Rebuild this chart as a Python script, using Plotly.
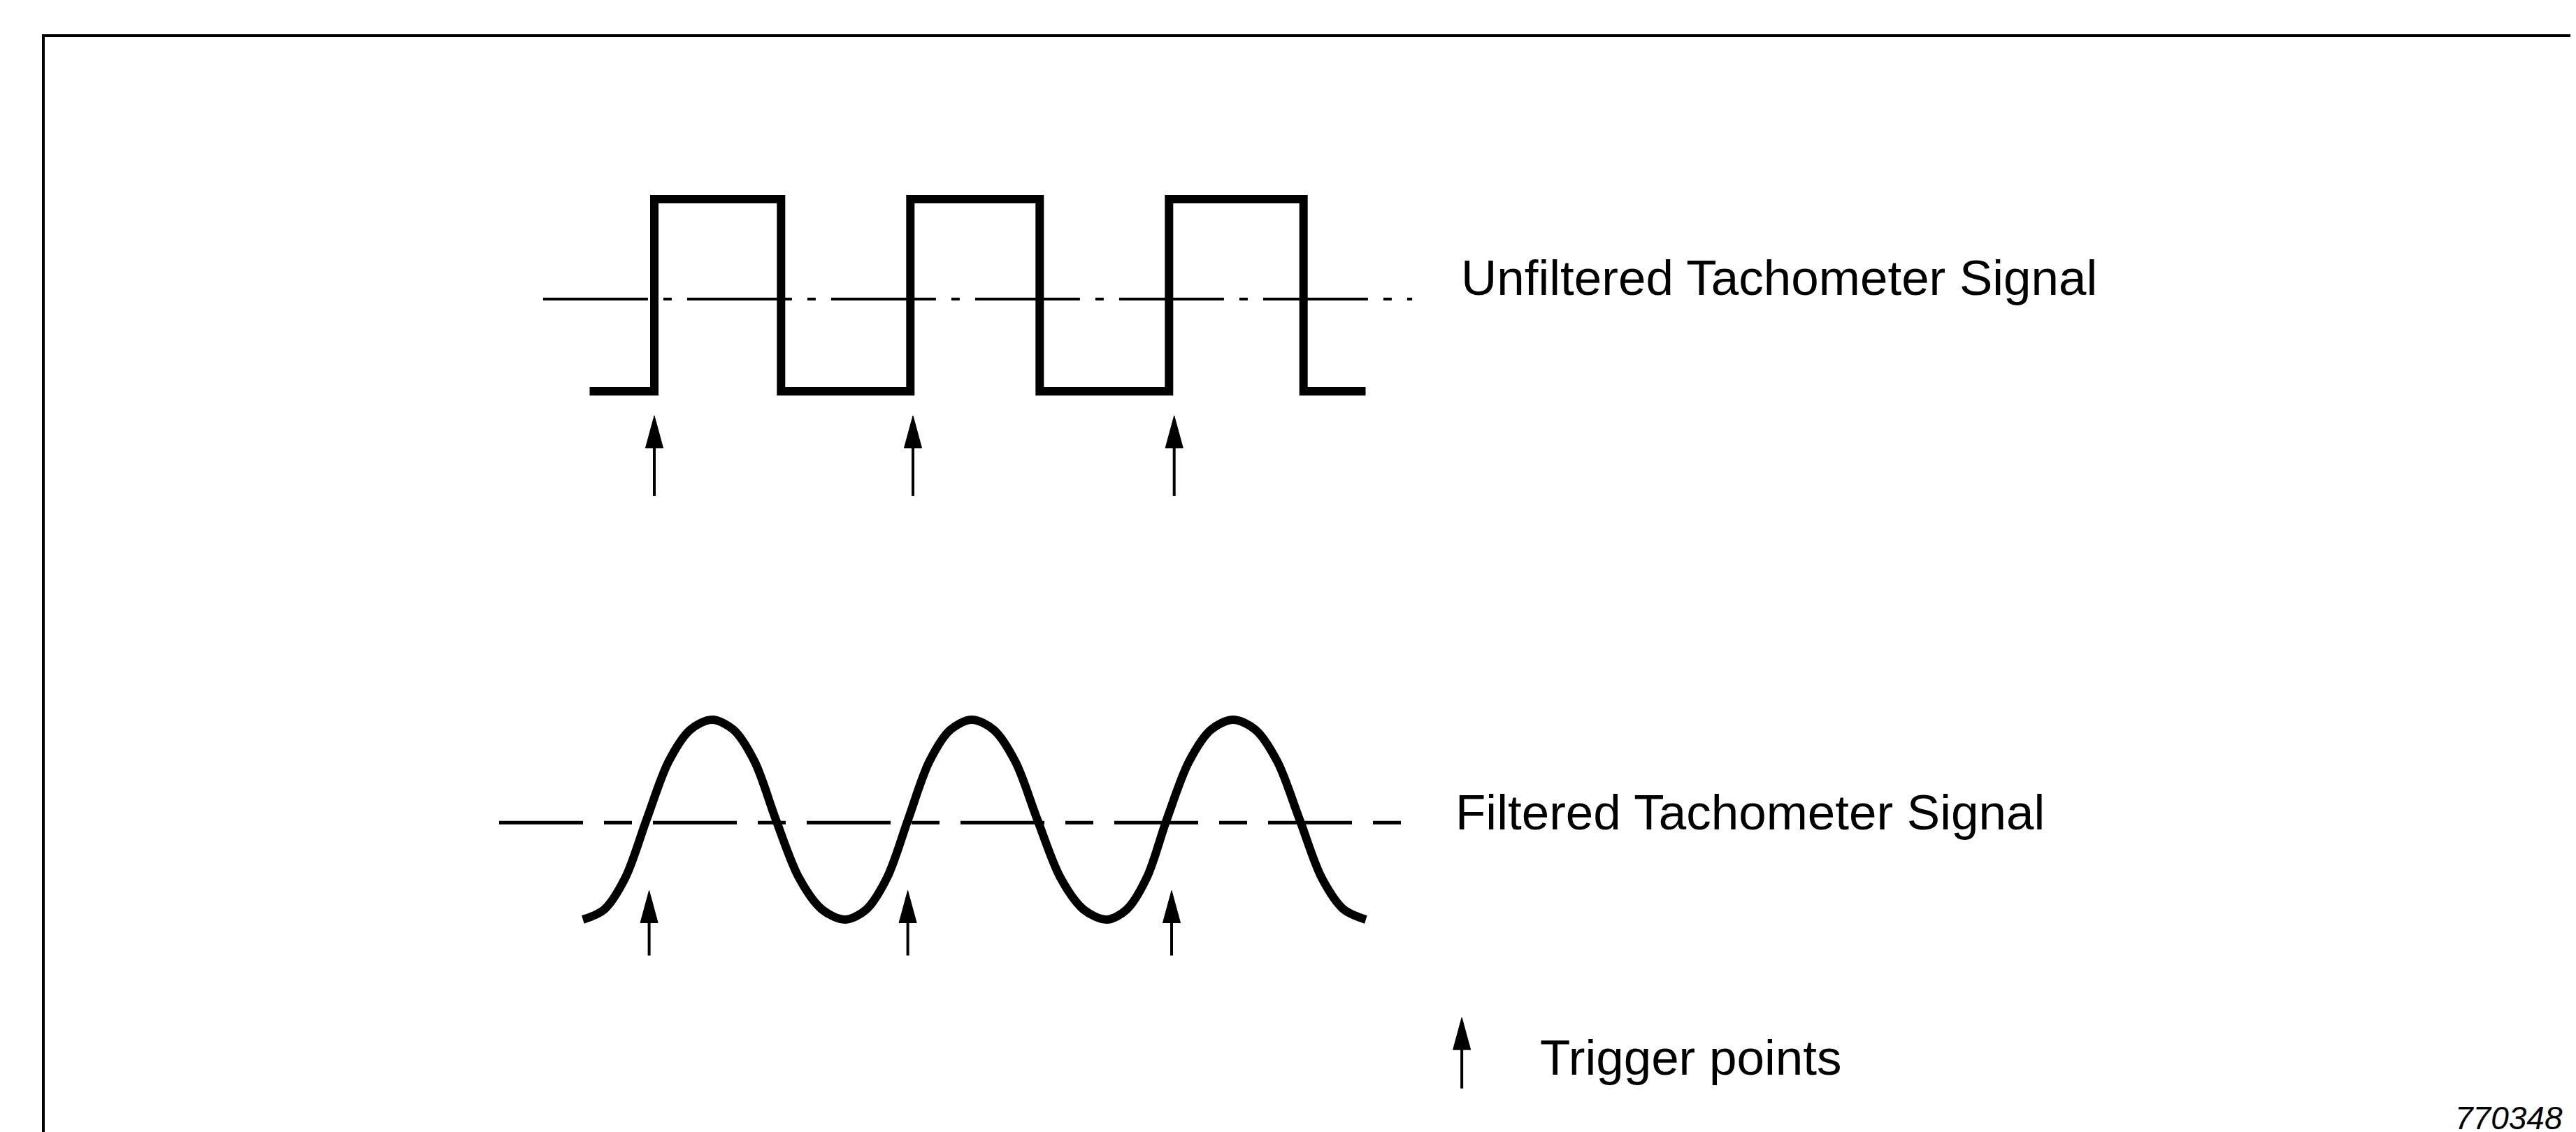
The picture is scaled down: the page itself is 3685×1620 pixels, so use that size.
import plotly.graph_objects as go

# ---------------- data (time in tachometer periods, levels normalised) -------------
# Unfiltered square wave: transition times and levels
square_t = [-0.25, 0.0, 0.49, 0.99, 1.49, 1.99, 2.51, 2.75]
square_level = [0, 1, 0, 1, 0, 1, 0, 0]
square_ref_span = [-0.43, 2.93]
square_ref_level = 0.48
square_triggers = [0.0, 1.0, 2.01]
square_arrow_tip = -0.127
square_arrow_tail = -0.545

# Filtered signal: extremes, zero crossings and points read in between
sine_t = [-0.276, -0.194, -0.112, -0.03, 0.055, 0.139, 0.224, 0.306, 0.388, 0.47,
          0.559, 0.649, 0.738, 0.819, 0.90, 0.981, 1.063, 1.145, 1.227, 1.312,
          1.396, 1.481, 1.570, 1.660, 1.749, 1.826, 1.904, 1.981, 2.067, 2.152,
          2.238, 2.324, 2.409, 2.495, 2.580, 2.666, 2.751]
sine_level = [-1, -0.9, -0.58, 0, 0.58, 0.9, 1, 0.9, 0.58, 0,
              -0.58, -0.9, -1, -0.9, -0.58, 0, 0.58, 0.9, 1, 0.9,
              0.58, 0, -0.58, -0.9, -1, -0.9, -0.58, 0, 0.58, 0.9,
              1, 0.9, 0.58, 0, -0.58, -0.9, -1]
sine_ref_span = [-0.6, 2.91]
sine_ref_level = -0.03
sine_triggers = [-0.02, 0.98, 2.0]
sine_arrow_tip = -0.71
sine_arrow_tail = -1.36

legend_arrow_t = 3.122
legend_arrow_tip = -1.98
legend_arrow_tail = -2.69

labels = ["Unfiltered Tachometer Signal", "Filtered Tachometer Signal", "Trigger points"]
figure_id = "770348"

# ---------------- layout constants (pixels) ----------------
W, H = 3685, 1620
X0_PX, X_UNIT_PX = 928, 370          # t = 0 position, pixels per period
TOP_Y0_PX, TOP_UNIT_PX = 552, 275    # square-wave level 0 and pixels per level
BOT_Y0_PX, BOT_UNIT_PX = 1165, 143   # sine level 0 and pixels per level
FONT = "Liberation Sans, Arial, Helvetica, sans-serif"


def fy(px):
    return 1 - px / H


top_range = [-1, 2]
bot_range = [-3, 2]
top_domain = [fy(TOP_Y0_PX - top_range[0] * TOP_UNIT_PX), fy(TOP_Y0_PX - top_range[1] * TOP_UNIT_PX)]
bot_domain = [fy(BOT_Y0_PX - bot_range[0] * BOT_UNIT_PX), fy(BOT_Y0_PX - bot_range[1] * BOT_UNIT_PX)]

fig = go.Figure()

# reference lines
fig.add_trace(go.Scatter(x=square_ref_span, y=[square_ref_level] * 2, mode="lines",
                         line=dict(color="black", width=4, dash="150px,22px,12px,22px"),
                         xaxis="x", yaxis="y", hoverinfo="skip"))
fig.add_trace(go.Scatter(x=sine_ref_span, y=[sine_ref_level] * 2, mode="lines",
                         line=dict(color="black", width=5, dash="120px,30px,40px,30px"),
                         xaxis="x", yaxis="y2", hoverinfo="skip"))

# signals
fig.add_trace(go.Scatter(x=square_t, y=square_level, mode="lines",
                         line=dict(color="black", width=12, shape="hv"),
                         xaxis="x", yaxis="y", hoverinfo="skip"))
fig.add_trace(go.Scatter(x=sine_t, y=sine_level, mode="lines",
                         line=dict(color="black", width=12, shape="spline", smoothing=0.9),
                         xaxis="x", yaxis="y2", hoverinfo="skip"))

HEAD_LEN_PX, HEAD_HALF_PX = 46, 12.5


def add_arrow(t, tip, tail, yaxis, unit_px):
    hl = HEAD_LEN_PX / unit_px
    hw = HEAD_HALF_PX / X_UNIT_PX
    fig.add_trace(go.Scatter(x=[t, t], y=[tail, tip - hl * 0.8], mode="lines",
                             line=dict(color="black", width=4),
                             xaxis="x", yaxis=yaxis, hoverinfo="skip"))
    fig.add_trace(go.Scatter(x=[t, t - hw, t + hw, t], y=[tip, tip - hl, tip - hl, tip],
                             mode="lines", fill="toself", fillcolor="black",
                             line=dict(color="black", width=1),
                             xaxis="x", yaxis=yaxis, hoverinfo="skip"))


for t in square_triggers:
    add_arrow(t, square_arrow_tip, square_arrow_tail, "y", TOP_UNIT_PX)
for t in sine_triggers:
    add_arrow(t, sine_arrow_tip, sine_arrow_tail, "y2", BOT_UNIT_PX)
add_arrow(legend_arrow_t, legend_arrow_tip, legend_arrow_tail, "y2", BOT_UNIT_PX)

annotations = [
    dict(text=labels[0], x=2080 / W, y=fy(390), xref="paper", yref="paper",
         xanchor="left", yanchor="middle", showarrow=False,
         font=dict(family=FONT, size=71, color="black")),
    dict(text=labels[1], x=2072 / W, y=fy(1154), xref="paper", yref="paper",
         xanchor="left", yanchor="middle", showarrow=False,
         font=dict(family=FONT, size=71, color="black")),
    dict(text=labels[2], x=2193 / W, y=fy(1505), xref="paper", yref="paper",
         xanchor="left", yanchor="middle", showarrow=False,
         font=dict(family=FONT, size=71, color="black")),
    dict(text="<i>" + figure_id + "</i>", x=3660 / W, y=fy(1592), xref="paper", yref="paper",
         xanchor="right", yanchor="middle", showarrow=False,
         font=dict(family=FONT, size=46, color="black")),
]

border = dict(type="path", xref="paper", yref="paper",
              path=f"M {54 / W} {fy(1620)} L {54 / W} {fy(43)} L {3679 / W} {fy(43)} L {3679 / W} {fy(1620)}",
              line=dict(color="black", width=4))

fig.update_layout(
    width=W, height=H,
    margin=dict(l=0, r=0, t=0, b=0),
    paper_bgcolor="white", plot_bgcolor="white",
    showlegend=False,
    xaxis=dict(range=[-X0_PX / X_UNIT_PX, (W - X0_PX) / X_UNIT_PX], domain=[0, 1], visible=False,
               fixedrange=True),
    yaxis=dict(range=top_range, domain=top_domain, visible=False, fixedrange=True),
    yaxis2=dict(range=bot_range, domain=bot_domain, visible=False, fixedrange=True),
    annotations=annotations,
    shapes=[border],
)

fig.write_html("out.html", config={"displayModeBar": False})
